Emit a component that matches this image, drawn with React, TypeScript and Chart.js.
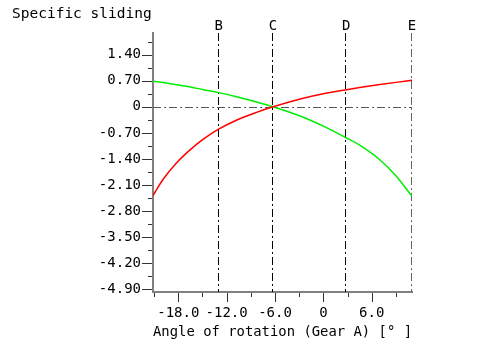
import { useEffect, useRef } from "react";
import { Chart, registerables } from "chart.js";

Chart.register(...registerables);

// ---- data ----
const angles = [-21.14, -20.7, -19.9, -18.2, -16.5, -14.9, -13.0, -10.8, -8.3, -6.25, -2.5, 0, 2.9, 4.5, 7.0, 9.0, 11.0];
const gearA = [-2.39, -2.22, -1.95, -1.50, -1.15, -0.87, -0.60, -0.36, -0.15, 0, 0.23, 0.35, 0.46, 0.515, 0.595, 0.655, 0.71];
const gearB = [0.69, 0.675, 0.65, 0.59, 0.53, 0.46, 0.38, 0.27, 0.13, 0, -0.28, -0.52, -0.84, -1.03, -1.42, -1.85, -2.40];

const yTitle = "Specific sliding";
const xTitle = "Angle of rotation (Gear A) [° ]";

const xMajorTicks = [-18, -12, -6, 0, 6];
const xMinorTicks = [-21, -15, -9, -3, 3, 9];
const yMajorTicks = [1.4, 0.7, 0, -0.7, -1.4, -2.1, -2.8, -3.5, -4.2, -4.9];
const yMinorTicks = [1.75, 1.05, 0.35, -0.35, -1.05, -1.75, -2.45, -3.15, -3.85, -4.55];

const markerLabels = ["B", "C", "D", "E"];
const markerAngles = [-13.0, -6.25, 2.85, 11.0];

const xRange = [-21.14, 11.0];
const yRange = [-4.97, 1.98];

const FONT = "'DejaVu Sans Mono', 'Liberation Mono', monospace";

const decorPlugin = {
  id: "decor",
  beforeDatasetsDraw(chart: any) {
    const { ctx, chartArea: a, scales } = chart;
    const x = scales.x;
    const y = scales.y;
    ctx.save();
    ctx.lineWidth = 1;
    ctx.setLineDash([8, 3, 2, 3]);
    ctx.strokeStyle = "#555555";
    const y0 = Math.round(y.getPixelForValue(0)) + 0.5;
    ctx.beginPath();
    ctx.moveTo(a.left, y0);
    ctx.lineTo(a.right, y0);
    ctx.stroke();
    markerAngles.forEach((v, i) => {
      ctx.strokeStyle = i === markerAngles.length - 1 ? "#666666" : "#000000";
      const px = Math.round(x.getPixelForValue(v)) - 0.5;
      ctx.beginPath();
      ctx.moveTo(px, a.top);
      ctx.lineTo(px, a.bottom);
      ctx.stroke();
    });
    ctx.restore();
  },
  afterDraw(chart: any) {
    const { ctx, chartArea: a, scales } = chart;
    const x = scales.x;
    const y = scales.y;
    ctx.save();
    ctx.setLineDash([]);
    ctx.lineWidth = 1;
    ctx.strokeStyle = "#333333";
    const yTick = (v: number, len: number) => {
      const py = Math.round(y.getPixelForValue(v)) + 0.5;
      ctx.beginPath();
      ctx.moveTo(a.left - len, py);
      ctx.lineTo(a.left - 1, py);
      ctx.stroke();
    };
    yMajorTicks.forEach((v) => yTick(v, 11));
    yMinorTicks.forEach((v) => yTick(v, 5));
    const xTick = (v: number, len: number) => {
      const px = Math.round(x.getPixelForValue(v)) + 0.5;
      ctx.beginPath();
      ctx.moveTo(px, a.bottom + 1);
      ctx.lineTo(px, a.bottom + len);
      ctx.stroke();
    };
    xMajorTicks.forEach((v) => xTick(v, 10));
    xMinorTicks.forEach((v) => xTick(v, 5));
    ctx.fillStyle = "#000000";
    ctx.font = `14.5px ${FONT}`;
    ctx.textAlign = "left";
    ctx.textBaseline = "alphabetic";
    ctx.fillText(yTitle, 12, 17.5);
    ctx.font = `14px ${FONT}`;
    ctx.textAlign = "center";
    markerAngles.forEach((v, i) => {
      const px = x.getPixelForValue(v);
      ctx.fillText(markerLabels[i], px, 30);
    });
    ctx.restore();
  },
};

export default function App() {
  const ref = useRef<HTMLCanvasElement | null>(null);

  useEffect(() => {
    if (!ref.current) return;
    const chart = new Chart(ref.current, {
      type: "line",
      data: {
        datasets: [
          {
            label: "Gear A",
            data: angles.map((a, i) => ({ x: a, y: gearA[i] })),
            borderColor: "#ff0000",
            borderWidth: 1.5,
            pointRadius: 0,
            cubicInterpolationMode: "monotone",
            fill: false,
          },
          {
            label: "Gear B",
            data: angles.map((a, i) => ({ x: a, y: gearB[i] })),
            borderColor: "#00ee00",
            borderWidth: 1.5,
            pointRadius: 0,
            cubicInterpolationMode: "monotone",
            fill: false,
          },
        ],
      },
      options: {
        animation: false,
        responsive: false,
        devicePixelRatio: 1,
        layout: { padding: { top: 33, right: 80, left: 0, bottom: 0 } },
        plugins: {
          legend: { display: false },
          tooltip: { enabled: false },
          title: { display: false },
        },
        scales: {
          x: {
            type: "linear",
            min: xRange[0],
            max: xRange[1],
            afterBuildTicks: (scale: any) => {
              scale.ticks = xMajorTicks.map((v) => ({ value: v }));
            },
            afterFit: (scale: any) => {
              scale.height = 52;
            },
            ticks: {
              autoSkip: false,
              maxRotation: 0,
              color: "#000000",
              padding: 3,
              font: { family: FONT, size: 14 },
              callback: (v: any) => (v === 0 ? "0" : Number(v).toFixed(1)),
            },
            grid: {
              display: true,
              drawOnChartArea: false,
              drawTicks: true,
              tickLength: 10,
              tickColor: "rgba(0,0,0,0)",
            },
            border: { display: true, color: "#808080", width: 2 },
            title: {
              display: true,
              text: xTitle,
              color: "#000000",
              font: { family: FONT, size: 14.5 },
              padding: { top: 0, bottom: 3 },
            },
          },
          y: {
            type: "linear",
            min: yRange[0],
            max: yRange[1],
            afterBuildTicks: (scale: any) => {
              scale.ticks = yMajorTicks.map((v) => ({ value: v }));
            },
            afterFit: (scale: any) => {
              scale.width = 153;
            },
            ticks: {
              autoSkip: false,
              color: "#000000",
              padding: 1,
              font: { family: FONT, size: 14 },
              callback: (v: any) => (v === 0 ? "0" : Number(v).toFixed(2)),
            },
            grid: {
              display: true,
              drawOnChartArea: false,
              drawTicks: true,
              tickLength: 11,
              tickColor: "rgba(0,0,0,0)",
            },
            border: { display: true, color: "#808080", width: 2 },
          },
        },
      },
      plugins: [decorPlugin],
    } as any);
    return () => chart.destroy();
  }, []);

  return (
    <div style={{ position: "fixed", left: 0, top: 0, width: 492, height: 344, background: "#ffffff" }}>
      <canvas ref={ref} width={492} height={344} style={{ display: "block", width: 492, height: 344 }} />
    </div>
  );
}
